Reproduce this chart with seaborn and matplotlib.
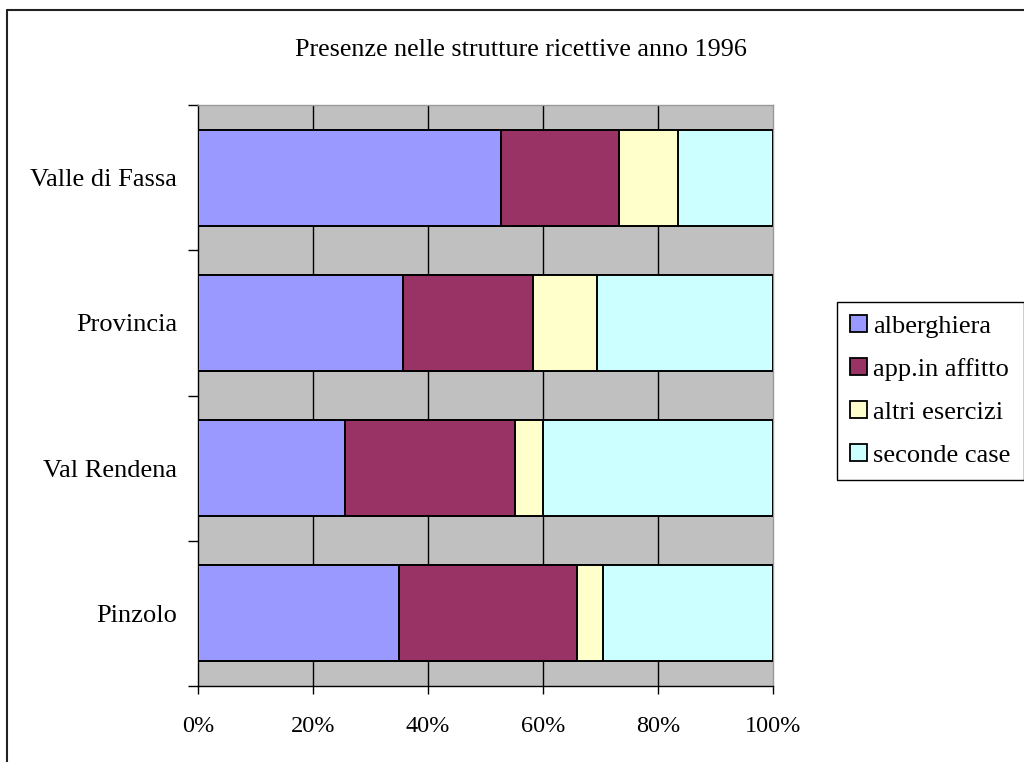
import matplotlib
matplotlib.use("Agg")
import matplotlib.pyplot as plt
from matplotlib.lines import Line2D
from matplotlib.patches import Patch
import numpy as np
import pandas as pd
import seaborn as sns

# Accommodation nights by structure type, 1996 (shares, %)
localita = ["Valle di Fassa", "Provincia", "Val Rendena", "Pinzolo"]
alberghiera = [52.7, 35.7, 25.6, 35.0]
app_affitto = [20.5, 22.6, 29.5, 30.9]
altri_esercizi = [10.3, 11.1, 4.9, 4.5]
seconde_case = [16.5, 30.6, 40.0, 29.6]

serie = ["alberghiera", "app.in affitto", "altri esercizi", "seconde case"]
colori = ["#9999FF", "#993366", "#FFFFCC", "#CCFFFF"]
tick_x = [0, 20, 40, 60, 80, 100]
tick_x_labels = ["0%", "20%", "40%", "60%", "80%", "100%"]
titolo = "Presenze nelle strutture ricettive anno 1996"

sns.set_theme(style="white")
plt.rcParams["font.family"] = ["Liberation Serif", "DejaVu Serif"]
plt.rcParams["text.color"] = "black"
plt.rcParams["xtick.color"] = "black"
plt.rcParams["ytick.color"] = "black"

valori = np.array([alberghiera, app_affitto, altri_esercizi, seconde_case])
cumulati = np.cumsum(valori, axis=0)
totali = cumulati[-1]
cumulati = cumulati / totali * 100  # normalise each row to 100%

df = pd.DataFrame({"localita": localita})
for nome, cum in zip(serie, cumulati):
    df[nome] = cum

fig = plt.figure(figsize=(10.24, 7.62), dpi=100)
ax = fig.add_axes([198 / 1024, 1 - 686 / 762, 575 / 1024, 581 / 762])
ax.set_facecolor("#C0C0C0")

# Stacked bars: draw cumulative totals from the longest down
for nome, colore in reversed(list(zip(serie, colori))):
    sns.barplot(data=df, x=nome, y="localita", order=localita, orient="h",
                color=colore, edgecolor="black", linewidth=1.4,
                width=0.66, saturation=1, ax=ax, zorder=3)

ax.set_xlim(0, 100)
ax.set_ylim(3.5, -0.5)
ax.set_xlabel("")
ax.set_ylabel("")

# Vertical gridlines behind the bars
for gx in tick_x[1:-1]:
    ax.axvline(gx, color="black", lw=1, zorder=1)

ax.set_xticks(tick_x)
ax.set_xticklabels(tick_x_labels, fontsize=17.5, color="black")
ax.tick_params(axis="x", direction="out", length=6, width=1, color="black",
               pad=15.5, bottom=True)

ax.set_yticks(np.arange(-0.5, len(localita), 1.0))
ax.set_yticklabels([])
ax.set_yticks(np.arange(len(localita)), minor=True)
ax.set_yticklabels(localita, minor=True, fontsize=19, color="black")
ax.tick_params(axis="y", which="major", direction="out", length=7, width=1,
               color="black", left=True)
ax.tick_params(axis="y", which="minor", length=0, pad=15)

for side in ["left", "bottom"]:
    ax.spines[side].set_color("black")
    ax.spines[side].set_linewidth(1)
for side in ["top", "right"]:
    ax.spines[side].set_color("#999999")
    ax.spines[side].set_linewidth(1)

fig.text(521 / 1024, 1 - 50 / 762, titolo, ha="center", va="center",
         fontsize=18.8, color="black")

handles = [Patch(facecolor=c, edgecolor="black", linewidth=1.3) for c in colori]
leg = fig.legend(handles, serie, loc="upper left",
                 bbox_to_anchor=(837 / 1024, 1 - 302 / 762),
                 fontsize=19, frameon=True, fancybox=False, framealpha=1,
                 handlelength=0.65, handleheight=0.6, handletextpad=0.22,
                 labelspacing=0.77, borderpad=0.5, borderaxespad=0)
leg.get_frame().set_edgecolor("black")
leg.get_frame().set_linewidth(1)
for t in leg.get_texts():
    t.set_color("black")

# Outer chart border
fig.add_artist(Line2D([7 / 1024, 1], [1 - 10 / 762, 1 - 10 / 762],
                      transform=fig.transFigure, color="#222222", lw=1.5))
fig.add_artist(Line2D([7 / 1024, 7 / 1024], [0, 1 - 10 / 762],
                      transform=fig.transFigure, color="#222222", lw=1.5))

fig.savefig("out.png", dpi=100, facecolor="white")
